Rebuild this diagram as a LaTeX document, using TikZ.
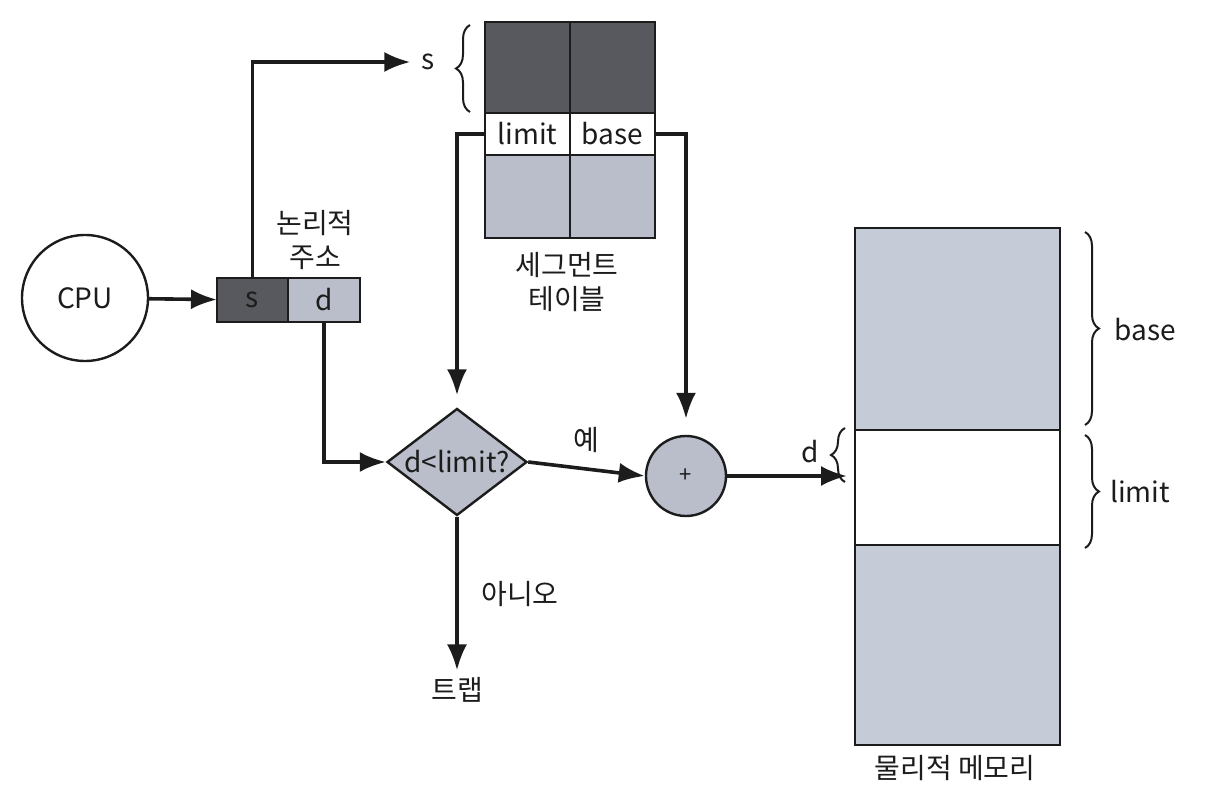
\documentclass[tikz,border=0pt]{standalone}
\usepackage{fontspec}
\setmainfont{Noto Sans CJK KR}
\usepackage{xcolor}
\usepackage{tikz}
\usetikzlibrary{calc,arrows.meta,positioning,decorations.pathreplacing,shapes.geometric}
\definecolor{segDark}{RGB}{88,89,94}
\definecolor{segLight}{RGB}{186,190,202}
\definecolor{memLight}{RGB}{198,203,216}
\definecolor{inkGray}{RGB}{28,28,28}

\begin{document}
\begin{tikzpicture}[x=0.5pt,y=-0.5pt, font=\fontsize{14}{17}\selectfont, text=inkGray,
  cell/.style={draw=inkGray, line width=1.2pt, inner sep=0pt, outer sep=0pt},
  flow/.style={draw=inkGray, line width=1.8pt, -{Latex[length=13pt,width=10pt]}},
  brc/.style={draw=inkGray, line width=1pt, decorate, decoration={brace, amplitude=7pt}}]
\useasboundingbox (0,0) rectangle (1207,791);

\node[circle, draw=inkGray, line width=1.2pt, minimum size=63pt] (cpu) at (85,298) {CPU};
\node[cell, fill=segDark, minimum width=35.5pt, minimum height=22pt] (sCell) at (252.5,300) {s};
\node[cell, fill=segLight, minimum width=36pt, minimum height=22pt] (dCell) at (324,300) {d};
\node[align=center] (laddr) at (315,240) {논리적\\주소};

\node[cell, fill=segDark, minimum width=42.5pt, minimum height=45.5pt] (t11) at (527.5,67.5) {};
\node[cell, fill=segDark, minimum width=42.5pt, minimum height=45.5pt] (t12) at (612.5,67.5) {};
\node[cell, fill=white, minimum width=42.5pt, minimum height=21pt] (lim) at (527.5,134) {limit};
\node[cell, fill=white, minimum width=42.5pt, minimum height=21pt] (bas) at (612.5,134) {base};
\node[cell, fill=segLight, minimum width=42.5pt, minimum height=41.5pt] (t31) at (527.5,196.5) {};
\node[cell, fill=segLight, minimum width=42.5pt, minimum height=41.5pt] (t32) at (612.5,196.5) {};
\node[align=center] (stab) at (567,282) {세그먼트\\테이블};
\node (sLab) at (428,62) {s};
\draw[brc] (470,112) -- (470,25);

\node[diamond, draw=inkGray, fill=segLight, line width=1.2pt, minimum width=70pt, minimum height=53.5pt, inner sep=0pt] (chk) at (457,462) {};
\node (chkText) at (chk) {d<limit?};
\node[circle, draw=inkGray, fill=segLight, line width=1.2pt, minimum size=40pt, inner sep=0pt, font=\fontsize{11}{13}\selectfont] (plus) at (686,476) {+};
\node (trap) at (457,690) {트랩};

\node[cell, fill=memLight, minimum width=102.5pt, minimum height=101pt] (mTop) at (957.5,329) {};
\node[cell, fill=white, minimum width=102.5pt, minimum height=57.5pt] (mMid) at (957.5,487.5) {};
\node[cell, fill=memLight, minimum width=102.5pt, minimum height=100pt] (mBot) at (957.5,645) {};
\node (mem) at (955,768) {물리적 메모리};
\draw[brc] (1085,232) -- (1085,425);
\node (baseLab) at (1145,330) {base};
\draw[brc] (1085,435) -- (1085,548);
\node (limLab) at (1140,492) {limit};
\draw[brc] (845,482) -- (845,428);
\node (dLab) at (810,452) {d};

\draw[flow] (cpu) -- (sCell);
\draw[flow, shorten >=2pt] (sCell.north) |- (sLab);
\draw[flow, shorten >=6pt] (lim.west) -| (chk.north);
\draw[flow, shorten >=8pt] (bas.east) -| (plus.north);
\draw[flow] (dCell.south) |- (chk.west);
\draw[flow] (chk.east) -- node[above=4pt] {예} (plus.west);
\draw[flow] (chk.south) -- node[right=8pt] {아니오} (trap.north);
\draw[flow, shorten >=4pt] (plus) -- (plus -| mMid.west);
\end{tikzpicture}
\end{document}
